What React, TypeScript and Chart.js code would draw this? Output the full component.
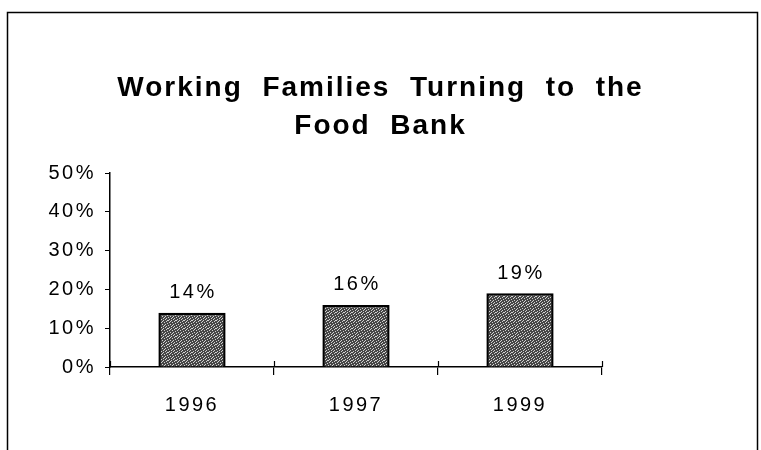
import React, { useEffect, useRef } from "react";
import { Chart, registerables } from "chart.js";

Chart.register(...registerables);

const categories = ["1996", "1997", "1999"];
const values = [14, 16, 19];
const titleLines = ["Working  Families  Turning  to  the", "Food  Bank"];
const yMin = 0;
const yMax = 50;
const yStep = 10;

const FONT = "'Liberation Sans', Arial, sans-serif";
const TITLE_SPACING = "2px";
const TICK_SPACING = "2.5px";

function makePattern(): CanvasPattern | string {
  const c = document.createElement("canvas");
  c.width = 8;
  c.height = 8;
  const g = c.getContext("2d");
  if (!g) return "#6c6c6c";
  g.fillStyle = "#474747";
  g.fillRect(0, 0, 8, 8);
  g.fillStyle = "#d2d2d2";
  const pts = [
    [0, 0], [3, 0], [6, 1], [1, 2], [4, 2], [7, 3], [2, 4], [5, 4],
    [0, 5], [3, 6], [6, 6], [1, 7], [5, 7], [7, 0], [2, 1], [4, 5],
  ];
  pts.forEach(([x, y]) => g.fillRect(x, y, 1, 1));
  const p = g.createPattern(c, "repeat");
  return p || "#6c6c6c";
}

const spacingPlugin = {
  id: "spacing",
  beforeUpdate(chart: any) {
    chart.ctx.letterSpacing = TICK_SPACING;
  },
  beforeLayout(chart: any) {
    chart.ctx.letterSpacing = TICK_SPACING;
  },
  beforeDraw(chart: any) {
    const ctx = chart.ctx;
    ctx.save();
    ctx.fillStyle = "#ffffff";
    ctx.fillRect(0, 0, chart.width, chart.height);
    ctx.strokeStyle = "#000000";
    ctx.lineWidth = 1.5;
    ctx.strokeRect(7.5, 12.5, 750, 500);
    ctx.restore();
    ctx.letterSpacing = TITLE_SPACING;
  },
  afterDatasetsDraw(chart: any) {
    const ctx = chart.ctx;
    const meta = chart.getDatasetMeta(0);
    ctx.save();
    ctx.letterSpacing = TICK_SPACING;
    ctx.font = `20px ${FONT}`;
    ctx.fillStyle = "#000";
    ctx.textAlign = "center";
    ctx.textBaseline = "middle";
    meta.data.forEach((bar: any, i: number) => {
      ctx.fillText(`${values[i]}%`, bar.x + 1, bar.y - 20);
    });
    // upward part of the category boundary ticks on the x axis
    const xs = chart.scales.x;
    ctx.strokeStyle = "#000";
    ctx.lineWidth = 1.2;
    ctx.beginPath();
    for (let i = 0; i <= categories.length; i++) {
      const px = Math.round(xs.getPixelForValue(i - 0.5)) + 0.5;
      ctx.moveTo(px, xs.top - 6);
      ctx.lineTo(px, xs.top);
    }
    ctx.stroke();
    ctx.restore();
    ctx.letterSpacing = TICK_SPACING;
  },
};

export default function App() {
  const ref = useRef<HTMLCanvasElement | null>(null);
  useEffect(() => {
    if (!ref.current) return;
    const chart = new Chart(ref.current, {
      type: "bar",
      data: {
        labels: categories,
        datasets: [
          {
            data: values,
            backgroundColor: makePattern() as any,
            borderColor: "#000000",
            borderWidth: 2.5,
            categoryPercentage: 1,
            barPercentage: 0.41,
            yAxisID: "y",
          },
        ],
      },
      options: {
        animation: false,
        responsive: false,
        maintainAspectRatio: false,
        layout: { padding: { left: 0, right: 0, top: 0, bottom: 0 } },
        plugins: {
          legend: { display: false },
          tooltip: { enabled: false },
          title: {
            display: true,
            text: titleLines,
            color: "#000",
            font: { family: FONT, size: 28, weight: "bold", lineHeight: 1.36 },
            padding: { top: 69, bottom: 28 },
          },
        },
        scales: {
          x: {
            offset: true,
            grid: {
              offset: true,
              drawOnChartArea: false,
              drawTicks: true,
              tickLength: 8,
              color: "#000",
              lineWidth: 1.2,
            },
            border: { display: true, color: "#000", width: 1.5 },
            ticks: {
              z: 1,
              color: "#000",
              font: { family: FONT, size: 20 },
              padding: 18,
            },
            afterFit(scale: any) {
              scale.height = 83;
            },
          },
          y: {
            min: yMin,
            max: yMax,
            grid: {
              drawOnChartArea: false,
              drawTicks: true,
              tickLength: 5,
              color: "#000",
            },
            border: { display: true, color: "#000", width: 1.5 },
            ticks: {
              z: 1,
              stepSize: yStep,
              color: "#000",
              font: { family: FONT, size: 20 },
              padding: 9,
              callback: (v: any) => `${v}%`,
            },
            afterFit(scale: any) {
              scale.width = 110;
            },
          },
          spacer: {
            type: "linear",
            position: "right",
            display: true,
            grid: { display: false, drawTicks: false },
            border: { display: false },
            ticks: { display: false },
            afterFit(scale: any) {
              scale.width = 159;
            },
          },
        },
      },
      plugins: [spacingPlugin],
    });
    return () => chart.destroy();
  }, []);
  return (
    <div style={{ position: "absolute", left: 0, top: 0, width: 761, height: 450 }}>
      <canvas ref={ref} width={761} height={450} style={{ width: 761, height: 450 }} />
    </div>
  );
}
